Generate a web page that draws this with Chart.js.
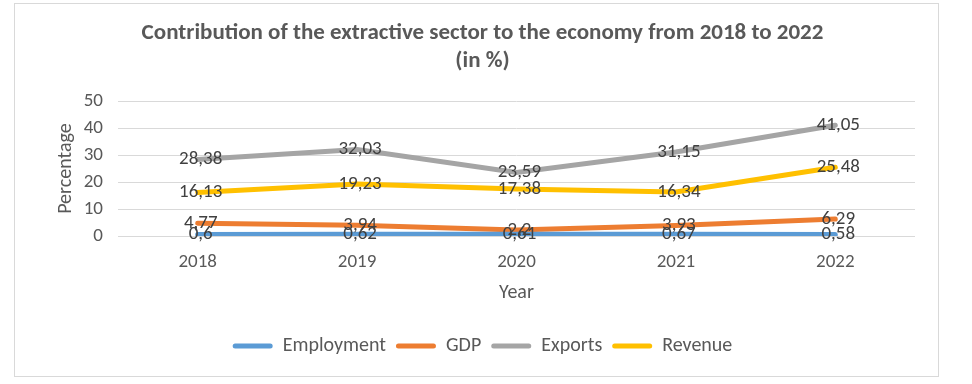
<!DOCTYPE html>
<html lang="en">
<head>
    <meta charset="UTF-8">
    <title>Contribution of the extractive sector</title>
    <script src="https://cdn.jsdelivr.net/npm/chart.js"></script>
    <style>
        body {
            margin: 0;
            background: #ffffff;
        }
        .wrap {
            position: relative;
            width: 972px;
            height: 384px;
        }
        .frame {
            position: absolute;
            left: 14px;
            top: 3px;
            width: 923px;
            height: 372px;
            border: 1px solid #d9d9d9;
            pointer-events: none;
        }
    </style>
</head>
<body>
    <div class="wrap">
        <canvas id="chart" width="972" height="384"></canvas>
        <div class="frame"></div>
    </div>
    <script>
        // data
        const years = ['2018', '2019', '2020', '2021', '2022'];
        const employment = [0.6, 0.62, 0.61, 0.67, 0.58];
        const gdp = [4.77, 3.94, 2.2, 3.93, 6.29];
        const exports = [28.38, 32.03, 23.59, 31.15, 41.05];
        const revenue = [16.13, 19.23, 17.38, 16.34, 25.48];
        const yTicks = [0, 10, 20, 30, 40, 50];

        const textColor = '#595959';
        const fontFamily = 'Carlito, Calibri, Lato, sans-serif';

        // labels in the middle of each point, comma as decimal mark
        const pointLabels = {
            id: 'pointLabels',
            afterDatasetsDraw(chart) {
                const ctx = chart.ctx;
                ctx.save();
                ctx.font = '19px ' + fontFamily;
                ctx.fillStyle = '#404040';
                ctx.textAlign = 'center';
                ctx.textBaseline = 'middle';
                chart.data.datasets.forEach((ds, i) => {
                    chart.getDatasetMeta(i).data.forEach((pt, j) => {
                        const txt = String(ds.data[j]).replace('.', ',');
                        ctx.fillText(txt, pt.x + 3, pt.y);
                    });
                });
                ctx.restore();
            }
        };

        function line(label, data, color) {
            return {
                label: label,
                data: data,
                borderColor: color,
                backgroundColor: color,
                borderWidth: 5,
                pointRadius: 0,
                tension: 0,
                borderCapStyle: 'round'
            };
        }

        new Chart(document.getElementById('chart'), {
            type: 'line',
            data: {
                labels: years,
                datasets: [
                    line('Employment', employment, '#5b9bd5'),
                    line('GDP', gdp, '#ed7d31'),
                    line('Exports', exports, '#a5a5a5'),
                    line('Revenue', revenue, '#ffc000')
                ]
            },
            options: {
                responsive: false,
                animation: false,
                layout: {
                    padding: { left: 50, right: 57, top: 5, bottom: 18 }
                },
                plugins: {
                    title: {
                        display: true,
                        text: ['Contribution of the extractive sector to the economy from 2018 to 2022', '(in %)'],
                        color: textColor,
                        font: { family: fontFamily, size: 23, weight: 'bold', lineHeight: 1.22 },
                        padding: { top: 14, bottom: 26 }
                    },
                    legend: {
                        position: 'bottom',
                        labels: {
                            color: textColor,
                            font: { family: fontFamily, size: 20 },
                            boxWidth: 40,
                            boxHeight: 5,
                            padding: 10,
                            generateLabels(chart) {
                                return chart.data.datasets.map((ds, i) => ({
                                    text: ds.label,
                                    fillStyle: ds.borderColor,
                                    strokeStyle: ds.borderColor,
                                    lineWidth: 0,
                                    fontColor: textColor,
                                    borderRadius: 2.5,
                                    datasetIndex: i,
                                    hidden: false
                                }));
                            }
                        }
                    },
                    tooltip: { enabled: false }
                },
                scales: {
                    x: {
                        offset: true,
                        grid: { display: false },
                        border: { display: false },
                        ticks: { color: textColor, font: { family: fontFamily, size: 19 }, padding: 7 },
                        title: {
                            display: true,
                            text: 'Year',
                            color: textColor,
                            font: { family: fontFamily, size: 20 },
                            padding: { top: 6, bottom: 21 }
                        },
                        afterFit(scale) {
                            scale.height = 90;
                        }
                    },
                    y: {
                        min: 0,
                        max: 50,
                        afterBuildTicks(scale) {
                            scale.ticks = yTicks.map(v => ({ value: v }));
                        },
                        grid: { color: '#d9d9d9', lineWidth: 1, drawTicks: false },
                        border: { display: false },
                        ticks: { color: textColor, font: { family: fontFamily, size: 19 }, padding: 15 },
                        title: {
                            display: true,
                            text: 'Percentage',
                            color: textColor,
                            font: { family: fontFamily, size: 20 },
                            padding: { top: 4, bottom: 4 }
                        },
                        afterFit(scale) {
                            scale.width = 68;
                        }
                    }
                }
            },
            plugins: [pointLabels]
        });
    </script>
</body>
</html>
